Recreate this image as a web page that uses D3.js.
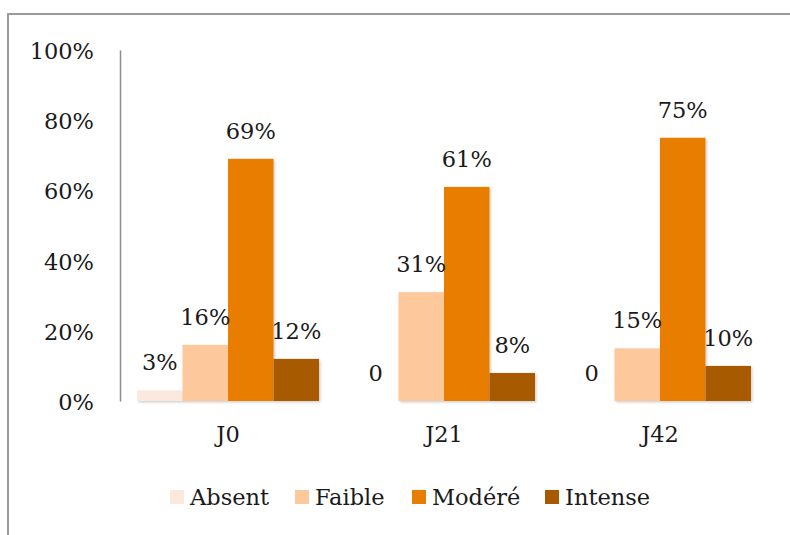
<!DOCTYPE html>
<html>
<head>
<meta charset="utf-8">
<script src="https://cdn.jsdelivr.net/npm/d3@7"></script>
<style>
  body { margin: 0; background: #fff; }
  text { font-family: "DejaVu Serif", serif; fill: #1a1a1a; }
</style>
</head>
<body>
<div id="chart"></div>
<script>
// data
var categories = ["J0", "J21", "J42"];
var series = ["Absent", "Faible", "Modéré", "Intense"];
var values = [
  [3, 16, 69, 12],   // J0
  [0, 31, 61, 8],    // J21
  [0, 15, 75, 10]    // J42
];
var valueLabels = [
  ["3%", "16%", "69%", "12%"],
  ["0", "31%", "61%", "8%"],
  ["0", "15%", "75%", "10%"]
];
var yTicks = [0, 20, 40, 60, 80, 100];
var colors = ["#fce9dd", "#fdc89b", "#e87d04", "#a85a00"];

var W = 790, H = 535;
var margin = {top: 50, right: 22, bottom: 134, left: 120};
var fontSize = "22.5px";

var svg = d3.select("#chart").append("svg")
    .attr("width", W)
    .attr("height", H);

var defs = svg.append("defs");
var f = defs.append("filter").attr("id", "shadow")
    .attr("x", "-10%").attr("y", "-10%").attr("width", "130%").attr("height", "130%");
f.append("feDropShadow")
    .attr("dx", 1.5).attr("dy", 1.5).attr("stdDeviation", 1.2)
    .attr("flood-color", "#000").attr("flood-opacity", 0.18);

// outer frame
svg.append("rect")
    .attr("x", 8).attr("y", 14)
    .attr("width", W + 20).attr("height", H + 20)
    .attr("fill", "none")
    .attr("stroke", "#9a9a9a")
    .attr("stroke-width", 2);

var x0 = d3.scaleBand()
    .domain(categories)
    .range([margin.left, W - margin.right])
    .paddingInner(0.157)
    .paddingOuter(0.0787);

var x1 = d3.scaleBand()
    .domain(series)
    .range([0, x0.bandwidth()]);

var y = d3.scaleLinear()
    .domain([0, 100])
    .range([H - margin.bottom, margin.top]);

var color = d3.scaleOrdinal().domain(series).range(colors);

function rows(d, i) {
  return series.map(function(s, j) { return {key: s, value: values[i][j], label: valueLabels[i][j]}; });
}

// bars
var groups = svg.append("g").selectAll("g")
    .data(categories)
  .enter().append("g")
    .attr("transform", function(d) { return "translate(" + x0(d) + ",0)"; });

groups.selectAll("rect")
    .data(rows)
  .enter().append("rect")
    .attr("x", function(d) { return x1(d.key); })
    .attr("y", function(d) { return y(d.value); })
    .attr("width", x1.bandwidth())
    .attr("height", function(d) { return y(0) - y(d.value); })
    .attr("fill", function(d) { return color(d.key); })
    .attr("filter", "url(#shadow)");

groups.selectAll("text")
    .data(rows)
  .enter().append("text")
    .attr("x", function(d) { return x1(d.key) + x1.bandwidth() / 2; })
    .attr("y", function(d) { return y(d.value) - 20; })
    .attr("text-anchor", "middle")
    .style("font-size", fontSize)
    .text(function(d) { return d.label; });

// y axis
var yAxis = svg.append("g")
    .attr("transform", "translate(" + margin.left + ",0)")
    .call(d3.axisLeft(y).tickValues(yTicks).tickSize(0).tickPadding(26)
      .tickFormat(function(d) { return d + "%"; }));
yAxis.select(".domain").attr("stroke", "#8c8c8c").attr("stroke-width", 1.5);
yAxis.selectAll("text").style("font-size", fontSize).attr("dy", "0.38em");

// x axis
var xAxis = svg.append("g")
    .attr("transform", "translate(0," + y(0) + ")")
    .call(d3.axisBottom(x0).tickSize(0).tickPadding(25));
xAxis.select(".domain")
    .attr("d", "M" + margin.left + ",0H" + (W - margin.right))
    .attr("stroke", "#8c8c8c").attr("stroke-width", 2)
    .attr("filter", "url(#shadow)");
xAxis.selectAll("text").style("font-size", fontSize);

// legend
var legendX = [170, 295, 412, 545];
var legend = svg.append("g").selectAll("g")
    .data(series)
  .enter().append("g")
    .attr("transform", function(d, i) { return "translate(" + legendX[i] + ",490)"; });

legend.append("rect")
    .attr("width", 14).attr("height", 14)
    .attr("fill", function(d) { return color(d); });

legend.append("text")
    .attr("x", 20).attr("y", 7)
    .attr("dy", "0.36em")
    .style("font-size", fontSize)
    .text(function(d) { return d; });
</script>
</body>
</html>
